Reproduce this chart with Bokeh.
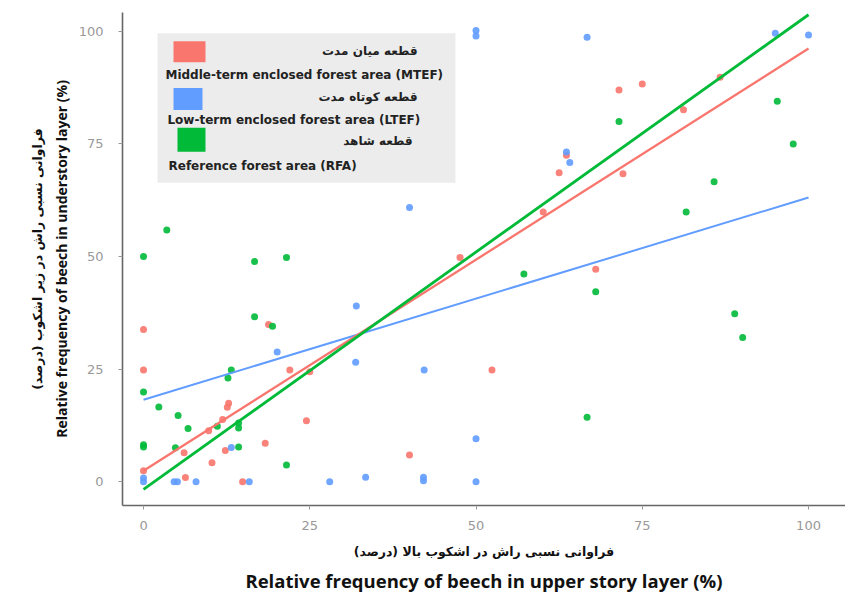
from bokeh.plotting import figure
from bokeh.models import Range1d, FixedTicker, BoxAnnotation, Label, Title
from bokeh.embed import file_html
from bokeh.resources import INLINE

# ---------------- data ----------------
mtef_x = [0, 0, 0, 6.1, 6.3, 9.8, 10.3, 11.9, 12.3, 12.6, 12.8, 14.9, 18.3, 18.8, 22.0,
          24.5, 25.0, 40.0, 47.6, 52.4, 60.1, 62.5, 63.6, 68.0, 71.5, 72.1, 75.0, 81.2, 86.7]
mtef_y = [33.8, 24.8, 2.4, 6.4, 0.9, 11.3, 4.2, 13.8, 6.9, 16.5, 17.4, 0, 8.5, 34.9, 24.8,
          13.5, 24.4, 5.9, 49.8, 24.8, 59.9, 68.6, 72.5, 47.2, 87.0, 68.4, 88.3, 82.6, 89.8]

ltef_x = [0, 0, 4.6, 5.1, 7.9, 13.2, 15.9, 20.1, 28.0, 31.9, 32.0, 33.4, 40.0, 42.2, 42.1,
          42.1, 50.0, 50.0, 50.0, 50.0, 63.6, 64.1, 66.7, 95.0, 100]
ltef_y = [0.8, 0, 0, 0, 0, 7.6, 0, 28.8, 0, 26.5, 39.0, 1.0, 60.9, 24.8, 0.2,
          1.0, 9.5, 0, 99.0, 100.2, 73.2, 70.9, 98.7, 99.6, 99.2]

rfa_x = [0, 0, 0, 0, 2.3, 3.5, 4.8, 5.2, 6.7, 11.1, 12.7, 13.2, 14.3, 14.3, 14.3, 16.7,
         16.7, 19.4, 21.5, 21.5, 57.2, 66.7, 68.0, 71.5, 81.6, 85.8, 88.9, 90.1, 95.3, 97.7]
rfa_y = [50, 19.9, 8.2, 7.7, 16.6, 55.9, 7.5, 14.7, 11.8, 12.3, 23.0, 24.8, 13.0, 11.9, 7.7, 48.9,
         36.6, 34.5, 49.8, 3.7, 46.1, 14.3, 42.2, 80.0, 59.9, 66.6, 37.3, 32.0, 84.5, 75.0]

fit_x = [0, 100]
mtef_fit = [2.4, 96.2]
ltef_fit = [18.2, 63.1]
rfa_fit = [-1.7, 103.7]

tick_values = [0, 25, 50, 75, 100]

names_fa = ["قطعه میان مدت", "قطعه کوتاه مدت", "قطعه شاهد"]
names_en = ["Middle-term enclosed forest area (MTEF)",
            "Low-term enclosed forest area (LTEF)",
            "Reference forest area (RFA)"]
colors = ["#F8766D", "#619CFF", "#00BA38"]

x_title_fa = "فراوانی نسبی راش در اشکوب بالا (درصد)"
x_title_en = "Relative frequency of beech in upper story layer (%)"
y_title_fa = "فراوانی نسبی راش در زیر اشکوب (درصد)"
y_title_en = "Relative frequency of beech in understory layer (%)"

# ---------------- figure ----------------
p = figure(width=845, height=596,
           x_range=Range1d(-3.16, 105.56), y_range=Range1d(-5.3, 104.2),
           output_backend="svg", toolbar_location=None,
           min_border_left=122, min_border_right=0, min_border_top=12, min_border_bottom=88)
p.outline_line_color = None
p.xgrid.visible = False
p.ygrid.visible = False
p.background_fill_color = "white"

for ax in (p.xaxis, p.yaxis):
    ax.ticker = FixedTicker(ticks=tick_values)
    ax.axis_line_color = "#666666"
    ax.axis_line_width = 1.6
    ax.major_tick_line_color = "#999999"
    ax.major_tick_line_width = 1
    ax.major_tick_in = 0
    ax.major_tick_out = 4
    ax.minor_tick_line_color = None
    ax.major_label_text_color = "#999999"
    ax.major_label_text_font = "DejaVu Sans"
    ax.major_label_text_font_size = "13px"
    ax.axis_label_text_font_style = "bold"
    ax.axis_label_text_color = "#111111"

p.xaxis.major_label_standoff = 11
p.xaxis.axis_label = x_title_fa
p.xaxis.axis_label_text_font = "DejaVu Sans"
p.xaxis.axis_label_text_font_size = "12.5px"
p.xaxis.axis_label_standoff = 11

p.yaxis.major_label_standoff = 15
p.yaxis.axis_label = y_title_en
p.yaxis.axis_label_text_font = "Open Sans"
p.yaxis.axis_label_text_font_size = "14px"
p.yaxis.axis_label_standoff = 5

p.add_layout(Title(text=x_title_en, align="center", text_font="Open Sans",
                   text_font_size="18.5px", text_font_style="bold",
                   text_color="#111111", standoff=8), "below")
p.add_layout(Title(text=y_title_fa, align="center", text_font="DejaVu Sans",
                   text_font_size="12.5px", text_font_style="bold",
                   text_color="#111111", standoff=8), "left")

# ---------------- marks ----------------
series = [(mtef_x, mtef_y, colors[0]),
          (ltef_x, ltef_y, colors[1]),
          (rfa_x, rfa_y, colors[2])]
for xs, ys, c in series:
    p.scatter(xs, ys, size=7, fill_color=c, line_color=None, fill_alpha=0.9)

p.line(fit_x, ltef_fit, line_color=colors[1], line_width=2)
p.line(fit_x, mtef_fit, line_color=colors[0], line_width=2.3)
p.line(fit_x, rfa_fit, line_color=colors[2], line_width=2.8)

# ---------------- legend (manual) ----------------
p.add_layout(BoxAnnotation(left=2.1, right=46.9, bottom=66.4, top=99.6,
                           fill_color="#ececec", fill_alpha=1, line_color=None,
                           level="underlay"))
swatches = [(4.51, 9.32, 93.16, 97.79), (4.51, 8.87, 82.56, 87.42), (5.11, 9.32, 73.29, 78.59)]
fa_pos = [(41.2, 95.65), (41.2, 85.5), (40.45, 75.56)]
en_pos = [(3.3, 90.3), (3.6, 80.35), (3.76, 70.04)]
for i in range(3):
    l, r, b, t = swatches[i]
    p.add_layout(BoxAnnotation(left=l, right=r, bottom=b, top=t, fill_color=colors[i],
                               fill_alpha=1, line_color=None))
    p.add_layout(Label(x=fa_pos[i][0], y=fa_pos[i][1], text=names_fa[i], text_align="right",
                       text_baseline="middle", text_font="DejaVu Sans", text_font_size="12px",
                       text_font_style="bold", text_color="#222222"))
    p.add_layout(Label(x=en_pos[i][0], y=en_pos[i][1], text=names_en[i], text_align="left",
                       text_baseline="middle", text_font="DejaVu Sans", text_font_size="12px",
                       text_font_style="bold", text_color="#222222"))

open("out.html", "w").write(file_html(p, INLINE))
